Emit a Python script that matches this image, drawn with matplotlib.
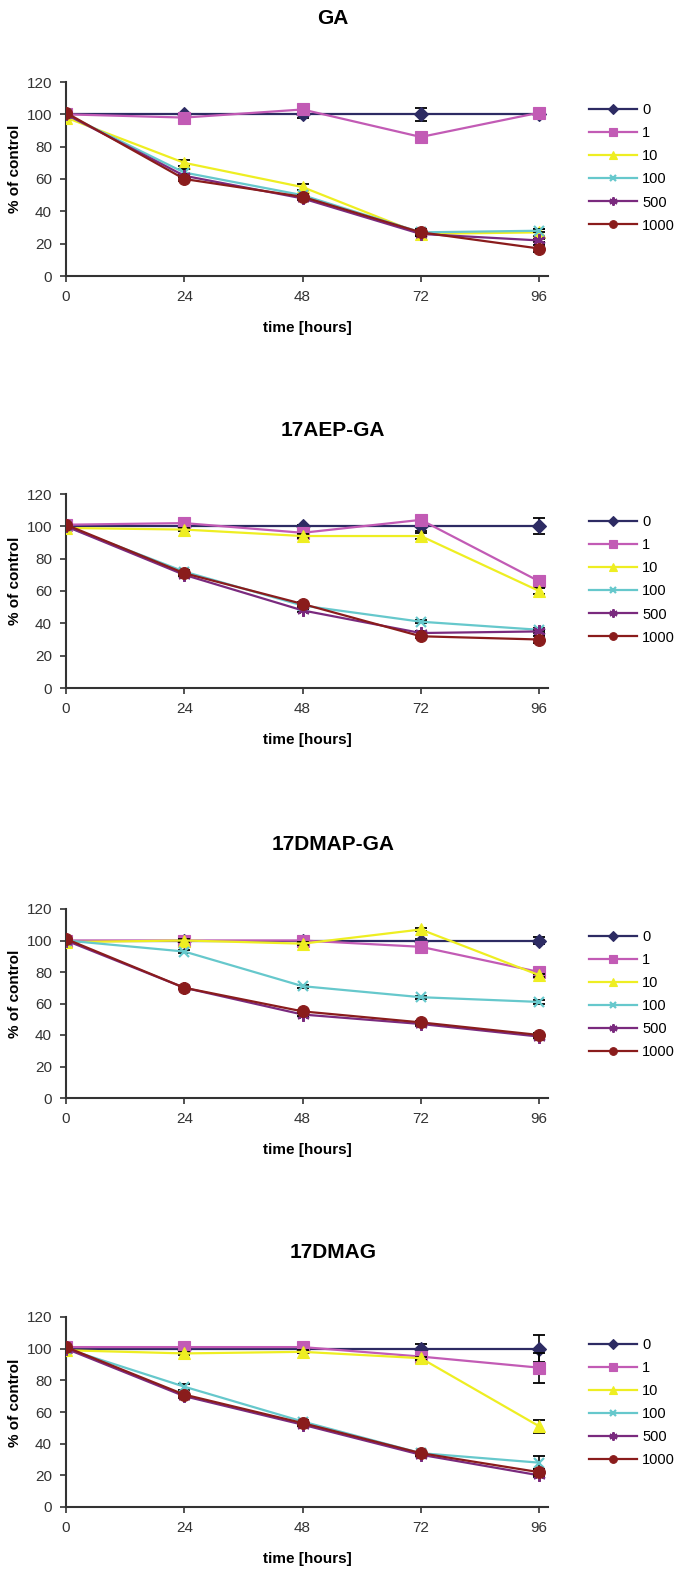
import matplotlib
matplotlib.use("Agg")
import matplotlib.pyplot as plt

plt.rcParams['font.family'] = ['Liberation Sans', 'DejaVu Sans']

hours = [0, 24, 48, 72, 96]
doses = ['0', '1', '10', '100', '500', '1000']
titles = ['GA', '17AEP-GA', '17DMAP-GA', '17DMAG']

# % of control, one list per dose, per compound
ga = [[100, 100, 100, 100, 100],
      [100, 98, 103, 86, 101],
      [98, 70, 55, 26, 27],
      [100, 64, 50, 27, 28],
      [100, 62, 48, 26, 22],
      [101, 60, 49, 27, 17]]
ga_err = [[0, 1, 2, 4, 1],
          [0, 1, 2, 1, 1],
          [0, 2, 2, 1, 2],
          [0, 2, 1, 1, 1],
          [0, 1, 1, 1, 1],
          [0, 1, 1, 2, 2]]

aep = [[100, 100, 100, 100, 100],
       [101, 102, 96, 104, 66],
       [99, 98, 94, 94, 60],
       [100, 72, 51, 41, 36],
       [100, 70, 48, 34, 35],
       [101, 71, 52, 32, 30]]
aep_err = [[0, 1, 1, 3, 5],
           [0, 1, 1, 1, 2],
           [0, 1, 1, 2, 2],
           [0, 1, 1, 1, 1],
           [0, 1, 1, 1, 1],
           [0, 1, 1, 1, 2]]

dmap = [[100, 100, 100, 100, 100],
        [100, 100, 100, 96, 80],
        [99, 100, 98, 107, 78],
        [100, 93, 71, 64, 61],
        [100, 70, 53, 47, 39],
        [101, 70, 55, 48, 40]]
dmap_err = [[0, 1, 1, 1, 2],
            [0, 1, 1, 1, 1],
            [0, 1, 1, 1, 1],
            [0, 1, 1, 1, 1],
            [0, 1, 1, 1, 1],
            [0, 1, 1, 1, 1]]

dmag = [[100, 100, 100, 100, 100],
        [101, 101, 101, 95, 88],
        [99, 97, 98, 94, 51],
        [100, 76, 54, 34, 28],
        [100, 70, 52, 33, 20],
        [101, 71, 53, 34, 22]]
dmag_err = [[0, 1, 1, 3, 8.5],
            [0, 1, 1, 1, 9.5],
            [0, 1, 1, 1, 4],
            [0, 2, 1, 1, 4],
            [0, 1, 1, 1, 1],
            [0, 1, 1, 1, 2]]

data = [ga, aep, dmap, dmag]
errs = [ga_err, aep_err, dmap_err, dmag_err]

colors = ['#2D2B63', '#C25BB5', '#EEEE22', '#66C8CC', '#7A2A7E', '#8A1C1C']
markers = ['D', 's', '^', 'x', (6, 2, 0), 'o']
msizes = [7.5, 8.5, 8.5, 7, 9, 8.5]

W, H = 686, 1576
fig = plt.figure(figsize=(W / 100, H / 100), dpi=100)

# axes top / bottom in pixels
tops = [82, 494, 909, 1317]
bottoms = [276, 688, 1098, 1507]
left, right = 66, 548

for k in range(4):
    ax = fig.add_axes([left / W, 1 - bottoms[k] / H, (right - left) / W,
                       (bottoms[k] - tops[k]) / H])
    for i in range(6):
        ax.errorbar(hours, data[k][i], yerr=errs[k][i], fmt='none',
                    ecolor='black', elinewidth=1.2, capsize=4.5, capthick=1.3,
                    zorder=2 + i)
        ax.plot(hours, data[k][i], color=colors[i], marker=markers[i],
                markersize=msizes[i],
                markeredgewidth=1.6 if i in (3, 4) else 0.8,
                markeredgecolor=colors[i], lw=1.6, label=doses[i],
                zorder=3 + i)
    ax.set_xlim(0, 97.8)
    ax.set_ylim(0, 120)
    ax.set_xticks(hours)
    ax.set_yticks(range(0, 121, 20))
    for s in ['top', 'right']:
        ax.spines[s].set_visible(False)
    for s in ['left', 'bottom']:
        ax.spines[s].set_color('#333333')
        ax.spines[s].set_linewidth(1.5)
    ax.tick_params(direction='out', length=4, width=1.2, color='#333333',
                   labelsize=11, labelcolor='#333333', pad=6)
    ax.set_ylabel('% of control', fontsize=11, fontweight='bold')
    ax.yaxis.set_label_coords(-0.091, 0.55)
    ax.set_xlabel('time [hours]', fontsize=11, fontweight='bold', labelpad=12)
    ax.legend(loc='upper left', bbox_to_anchor=(1.085, 0.89), frameon=False,
              fontsize=10.5, handlelength=3.3, handletextpad=0.35,
              labelspacing=0.62, borderpad=0, borderaxespad=0, markerscale=0.65)
    fig.text(333 / W, 1 - (tops[k] - 64) / H, titles[k], ha='center',
             va='center', fontsize=15, fontweight='bold')

fig.savefig('out.png', dpi=100)
